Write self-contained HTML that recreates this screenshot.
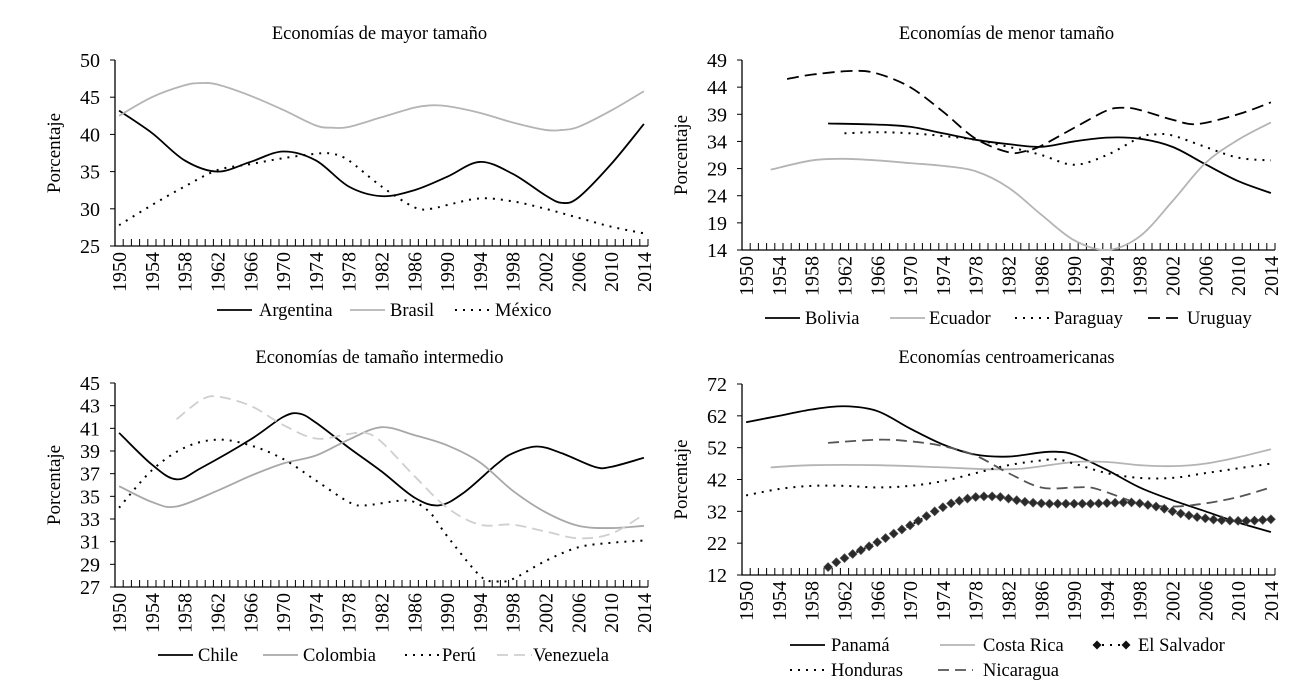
<!DOCTYPE html>
<html><head><meta charset="utf-8">
<style>
html,body{margin:0;padding:0;background:#fff;}
svg{display:block;font-family:"Liberation Serif",serif;}
</style></head>
<body>
<svg id="chart" width="1308" height="686" viewBox="0 0 1308 686" xmlns="http://www.w3.org/2000/svg"></svg>
<script>
// ---- Panel 1: large economies ----
const argYears=[1950,1954,1958,1962,1966,1970,1974,1978,1982,1986,1990,1994,1998,2002,2004,2006,2010,2014];
const argVals=[43.2,40.2,36.5,35.0,36.3,37.7,36.5,33.0,31.7,32.5,34.3,36.3,34.7,31.8,30.8,31.5,36.0,41.4];
const braYears=[1950,1954,1958,1960,1962,1966,1970,1974,1976,1978,1982,1986,1988,1990,1994,1998,2002,2004,2006,2010,2014];
const braVals=[42.5,45.0,46.6,46.9,46.7,45.2,43.3,41.2,40.9,41.0,42.3,43.6,43.9,43.8,42.9,41.6,40.6,40.6,41.0,43.2,45.8];
const mexYears=[1950,1954,1958,1962,1966,1970,1974,1976,1978,1982,1986,1988,1990,1994,1998,2002,2006,2010,2014];
const mexVals=[27.8,30.5,33.0,35.2,36.0,36.8,37.4,37.4,36.5,33.0,30.2,30.0,30.5,31.4,31.0,30.0,28.8,27.6,26.7];
// ---- Panel 2: small economies ----
const bolYears=[1960,1966,1970,1974,1978,1982,1986,1990,1994,1998,2002,2006,2010,2014];
const bolVals=[37.3,37.1,36.7,35.5,34.3,33.5,33.0,34.0,34.7,34.5,33.0,29.8,26.7,24.5];
const ecuYears=[1953,1958,1962,1966,1970,1974,1978,1982,1986,1990,1994,1998,2002,2006,2010,2014];
const ecuVals=[28.8,30.5,30.8,30.5,30.0,29.5,28.5,25.5,20.5,15.8,14.0,16.5,23.0,30.0,34.3,37.5];
const parYears=[1962,1966,1970,1974,1978,1982,1986,1990,1994,1998,2000,2002,2006,2010,2014];
const parVals=[35.5,35.7,35.5,35.0,34.3,33.0,31.5,29.7,31.5,34.7,35.3,35.1,33.0,31.0,30.5];
const uruYears=[1955,1958,1963,1966,1970,1974,1978,1982,1984,1986,1990,1994,1996,1998,2002,2005,2010,2014];
const uruVals=[45.5,46.3,47.0,46.5,44.0,39.5,34.5,32.0,32.2,33.2,36.5,39.7,40.2,39.8,38.0,37.2,39.0,41.2];
// ---- Panel 3: intermediate economies ----
const chiYears=[1950,1954,1957,1960,1966,1970,1972,1974,1978,1982,1986,1989,1992,1996,1998,2001,2004,2008,2010,2014];
const chiVals=[40.6,37.8,36.5,37.5,40.0,42.0,42.3,41.5,39.3,37.2,34.9,34.2,35.3,37.8,38.8,39.4,38.8,37.6,37.6,38.4];
const colYears=[1950,1954,1957,1962,1966,1970,1974,1978,1982,1986,1990,1994,1998,2002,2006,2010,2014];
const colVals=[35.9,34.5,34.1,35.5,36.8,37.9,38.6,40.0,41.1,40.4,39.5,38.0,35.5,33.6,32.4,32.2,32.4];
const perYears=[1950,1954,1958,1962,1966,1970,1974,1978,1980,1984,1986,1988,1990,1994,1996,1998,2002,2006,2010,2014];
const perVals=[34.0,37.3,39.3,40.0,39.5,38.3,36.4,34.5,34.2,34.6,34.5,33.5,31.5,28.0,27.5,27.7,29.3,30.5,30.9,31.1];
const venYears=[1957,1960,1962,1966,1970,1974,1978,1980,1982,1986,1990,1994,1998,2002,2006,2010,2014];
const venVals=[41.8,43.5,43.8,43.0,41.3,40.1,40.5,40.6,39.8,36.8,34.0,32.5,32.5,31.9,31.3,31.7,33.4];
// ---- Panel 4: Central American economies ----
const panYears=[1950,1954,1958,1962,1966,1970,1974,1978,1982,1986,1988,1990,1994,1998,2002,2006,2010,2014];
const panVals=[60,62,64,65,63.5,58,53,49.8,49.2,50.5,50.7,49.8,45,39.5,35.5,32.0,28.5,25.5];
const crYears=[1953,1958,1966,1974,1980,1984,1990,1994,1998,2002,2006,2010,2014];
const crVals=[45.8,46.5,46.5,45.8,45.2,45.5,47.5,47.5,46.5,46.2,47,49,51.5];
const honYears=[1950,1954,1958,1962,1966,1970,1974,1978,1982,1986,1988,1990,1994,1998,2002,2006,2010,2014];
const honVals=[37,39,40,40,39.5,40,41.5,44,46.5,48,48.3,47,44,42.5,42.5,44,45.5,47];
const nicYears=[1960,1966,1970,1974,1978,1982,1986,1990,1992,1994,1998,2002,2006,2010,2014];
const nicVals=[53.5,54.5,54,52.5,49.5,44,39.5,39.5,39.5,38,34.5,33.5,34.5,36.5,39.5];
const salStart=1960;
const salVals=[14.5,16,17.3,18.6,19.8,21,22.3,23.6,25,26.3,27.6,29,30.5,32,33.3,34.5,35.3,36,36.5,36.7,36.7,36.5,36,35.5,35,34.7,34.5,34.4,34.4,34.4,34.4,34.4,34.4,34.5,34.6,34.7,34.8,34.8,34.5,34,33.5,32.8,32,31.3,30.7,30.2,29.8,29.4,29.2,29.1,29,29,29.1,29.3,29.5];
const yearTicks=[1950,1954,1958,1962,1966,1970,1974,1978,1982,1986,1990,1994,1998,2002,2006,2010,2014];

const svg=document.getElementById('chart');
const NS='http://www.w3.org/2000/svg';
function mk(tag,attrs,parent){const e=document.createElementNS(NS,tag);for(const k in attrs)e.setAttribute(k,attrs[k]);(parent||svg).appendChild(e);return e;}

function smoothPath(pts){
  if(pts.length<2)return '';
  let d='M'+pts[0][0].toFixed(2)+','+pts[0][1].toFixed(2);
  for(let i=0;i<pts.length-1;i++){
    const p0=pts[i-1]||pts[i],p1=pts[i],p2=pts[i+1],p3=pts[i+2]||p2;
    const c1x=p1[0]+(p2[0]-p0[0])/6,c1y=p1[1]+(p2[1]-p0[1])/6;
    const c2x=p2[0]-(p3[0]-p1[0])/6,c2y=p2[1]-(p3[1]-p1[1])/6;
    d+=' C'+c1x.toFixed(2)+','+c1y.toFixed(2)+' '+c2x.toFixed(2)+','+c2y.toFixed(2)+' '+p2[0].toFixed(2)+','+p2[1].toFixed(2);
  }
  return d;
}

function makePanel(cfg){
  const g=mk('g',{});
  
  
  const xs=yr=>cfg.left+(yr-1950+0.5)*(cfg.right-cfg.left)/65;
  const ys=v=>cfg.bottom-(v-cfg.ymin)/(cfg.ymax-cfg.ymin)*(cfg.bottom-cfg.top);
  const t=mk('text',{x:(cfg.left+cfg.right)/2-2,y:cfg.titleY,'text-anchor':'middle','font-size':18.5,fill:'#000'},g);
  t.textContent=cfg.title;
  
  
  const yl=mk('text',{x:0,y:0,'text-anchor':'middle','font-size':19,transform:`translate(${cfg.left-55},${(cfg.top+cfg.bottom)/2}) rotate(-90)`},g);
  yl.textContent='Porcentaje';
  
  
  const ax=mk('path',{d:`M${cfg.left},${cfg.top} V${cfg.bottom} H${cfg.right}`,stroke:'#000','stroke-width':1.3,fill:'none'},g);
  
  
  for(let v=cfg.ymin;v<=cfg.ymax+0.001;v+=cfg.step){
    const y=ys(v);
    mk('line',{x1:cfg.left-5,x2:cfg.left,y1:y,y2:y,stroke:'#000','stroke-width':1},g);
    const lb=mk('text',{x:cfg.left-15,y:y+7,'text-anchor':'end','font-size':20},g);
    lb.textContent=v;
    
    
  }
  let td='';
  for(let i=0;i<=65;i++){const x=cfg.left+i*(cfg.right-cfg.left)/65;td+=`M${x.toFixed(2)},${cfg.bottom} v-7 `;}
  mk('path',{d:td,stroke:'#000','stroke-width':1},g);
  yearTicks.forEach(yr=>{
    const x=xs(yr);
    const lb=mk('text',{x:0,y:0,'text-anchor':'end','font-size':20,transform:`translate(${x+7},${cfg.bottom+6}) rotate(-90)`},g);
    lb.textContent=yr;
    
    
  });
  cfg.series.forEach(s=>{
    const pts=s.years.map((yr,i)=>[xs(yr),ys(s.vals[i])]);
    const p=mk('path',{d:smoothPath(pts),fill:'none',stroke:s.color,'stroke-width':s.w||1.8,'stroke-dasharray':s.dash||'none'},g);
    
    
    if(s.marker){
      pts.forEach(pt=>{
        const m=mk('path',{d:`M${pt[0]},${pt[1]-4.5} l4.5,4.5 l-4.5,4.5 l-4.5,-4.5 Z`,fill:'#2a2a2a',stroke:'#555','stroke-width':0.6},g);
        
        
      });
    }
  });
  cfg.legend.forEach(l=>{
    const s=cfg.series.find(q=>q.key===l.key);
    const lg=mk('g',{},g);
    
    
    mk('line',{x1:l.x,x2:l.x+35,y1:l.y-6,y2:l.y-6,stroke:s.color,'stroke-width':s.w||1.8,'stroke-dasharray':s.dash||'none'},lg);
    if(s.marker){
      [l.x+3,l.x+32].forEach(mx=>mk('path',{d:`M${mx},${l.y-10.5} l4.5,4.5 l-4.5,4.5 l-4.5,-4.5 Z`,fill:'#111'},lg));
    }
    const tx=mk('text',{x:l.x+l.tx,y:l.y,'font-size':18.5},lg);
    tx.textContent=l.label;
  });
}

const DOT='2 6', DASHK='12 6', DASHG='11 6';
makePanel({name:'panel-large-economies',title:'Economías de mayor tamaño',titleY:39,left:115,right:648,top:60,bottom:246,ymin:25,ymax:50,step:5,
  series:[{key:'argentina',years:argYears,vals:argVals,color:'#000'},
          {key:'brasil',years:braYears,vals:braVals,color:'#b4b4b4'},
          {key:'mexico',years:mexYears,vals:mexVals,color:'#000',dash:DOT,w:2}],
  legend:[{key:'argentina',label:'Argentina',x:217,y:316,tx:42},{key:'brasil',label:'Brasil',x:350,y:316,tx:40},{key:'mexico',label:'México',x:455,y:316,tx:40}]});
makePanel({name:'panel-small-economies',title:'Economías de menor tamaño',titleY:39,left:742,right:1275,top:60,bottom:250,ymin:14,ymax:49,step:5,
  series:[{key:'bolivia',years:bolYears,vals:bolVals,color:'#000'},
          {key:'ecuador',years:ecuYears,vals:ecuVals,color:'#b4b4b4'},
          {key:'paraguay',years:parYears,vals:parVals,color:'#000',dash:DOT,w:2},
          {key:'uruguay',years:uruYears,vals:uruVals,color:'#000',dash:DASHK}],
  legend:[{key:'bolivia',label:'Bolivia',x:765,y:324,tx:40},{key:'ecuador',label:'Ecuador',x:890,y:324,tx:39},{key:'paraguay',label:'Paraguay',x:1015,y:324,tx:39},{key:'uruguay',label:'Uruguay',x:1148,y:324,tx:39}]});
makePanel({name:'panel-intermediate-economies',title:'Economías de tamaño intermedio',titleY:363,left:115,right:648,top:383,bottom:587,ymin:27,ymax:45,step:2,
  series:[{key:'chile',years:chiYears,vals:chiVals,color:'#000'},
          {key:'colombia',years:colYears,vals:colVals,color:'#a8a8a8'},
          {key:'peru',years:perYears,vals:perVals,color:'#000',dash:DOT,w:2},
          {key:'venezuela',years:venYears,vals:venVals,color:'#cfcfcf',dash:DASHG}],
  legend:[{key:'chile',label:'Chile',x:158,y:661,tx:40},{key:'colombia',label:'Colombia',x:263,y:661,tx:40},{key:'peru',label:'Perú',x:405,y:661,tx:37},{key:'venezuela',label:'Venezuela',x:497,y:661,tx:36}]});
const salYears=salVals.map((v,i)=>salStart+i);
makePanel({name:'panel-central-american-economies',title:'Economías centroamericanas',titleY:363,left:742,right:1275,top:384,bottom:575,ymin:12,ymax:72,step:10,
  series:[{key:'panama',years:panYears,vals:panVals,color:'#000'},
          {key:'costa-rica',years:crYears,vals:crVals,color:'#b4b4b4'},
          {key:'honduras',years:honYears,vals:honVals,color:'#000',dash:DOT,w:2},
          {key:'nicaragua',years:nicYears,vals:nicVals,color:'#555',dash:DASHG},
          {key:'el-salvador',years:salYears,vals:salVals,color:'#000',dash:DOT,w:2,marker:true}],
  legend:[{key:'panama',label:'Panamá',x:790,y:651,tx:41},{key:'costa-rica',label:'Costa Rica',x:940,y:651,tx:43},{key:'el-salvador',label:'El Salvador',x:1094,y:651,tx:44},
          {key:'honduras',label:'Honduras',x:790,y:676,tx:41},{key:'nicaragua',label:'Nicaragua',x:938,y:676,tx:45}]});
</script>
</body></html>
